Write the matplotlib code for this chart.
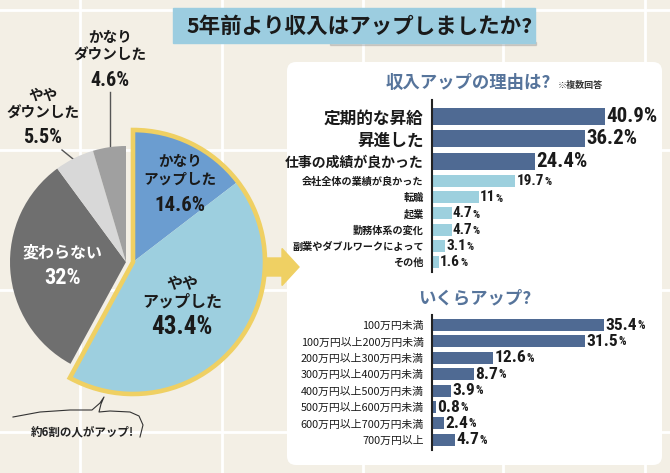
import numpy as np
import matplotlib.pyplot as plt
from matplotlib.patches import Rectangle, FancyBboxPatch, FancyArrow

plt.rcParams['font.family'] = ['Noto Sans CJK JP', 'DejaVu Sans']

# data
title = "5年前より収入はアップしましたか?"
pie_labels = ["かなり\nアップした", "やや\nアップした", "変わらない", "やや\nダウンした", "かなり\nダウンした"]
pie_values = [14.6, 43.4, 32, 5.5, 4.6]

reason_title = "収入アップの理由は?"
reason_note = "※複数回答"
reasons = ["定期的な昇給", "昇進した", "仕事の成績が良かった", "会社全体の業績が良かった",
           "転職", "起業", "勤務体系の変化", "副業やダブルワークによって", "その他"]
reason_values = [40.9, 36.2, 24.4, 19.7, 11, 4.7, 4.7, 3.1, 1.6]
n_big = 3

amount_title = "いくらアップ?"
amounts = ["100万円未満", "100万円以上200万円未満", "200万円以上300万円未満",
           "300万円以上400万円未満", "400万円以上500万円未満", "500万円以上600万円未満",
           "600万円以上700万円未満", "700万円以上"]
amount_values = [35.4, 31.5, 12.6, 8.7, 3.9, 0.8, 2.4, 4.7]

note = "約6割の人がアップ!"

# colours
BG = "#f3efe5"
YELLOW = "#efd063"
DARK_BLUE = "#4f6a93"
LIGHT_BLUE = "#9dd0de"
pie_colors = ["#6b9dd0", "#9dcfdf", "#6f6f6f", "#d8d8d8", "#a0a0a0"]
NUM = dict(family=['Roboto Condensed', 'DejaVu Sans'], fontstretch='condensed', fontweight='bold')

W, H = 670, 473
fig = plt.figure(figsize=(W / 100, H / 100), dpi=100)
fig.patch.set_facecolor(BG)


def px_axes(x0, y0, x1, y1):
    return fig.add_axes([x0 / W, 1 - y1 / H, (x1 - x0) / W, (y1 - y0) / H])


def value_label(ax, x, y, v, size, psize):
    # number followed by a smaller percent sign
    t = ax.text(x, y, f"{v:g}", ha='left', va='center', fontsize=size,
                color='#1a1a1a', **NUM)
    ax.annotate("%", xy=(1, 0), xycoords=t, xytext=(0.3, 0.5), textcoords='offset points',
                ha='left', va='bottom', fontsize=psize, color='#1a1a1a', **NUM)


# background layer in pixel coords (y down)
bg = fig.add_axes([0, 0, 1, 1])
bg.set_xlim(0, W)
bg.set_ylim(H, 0)
bg.axis('off')
for gx in [80, 222, 363, 503, 645]:
    bg.axvline(gx, color='white', lw=2, zorder=0)
for gy in [10, 150, 290, 432]:
    bg.axhline(gy, color='white', lw=2, zorder=0)

# title box
bg.add_patch(Rectangle((330, 42), 206, 3, color='#888888', alpha=0.3, zorder=1))
bg.add_patch(Rectangle((173, 8), 362, 35, color='#9ccde0', zorder=2))
bg.text(360, 26, title, ha='center', va='center', fontsize=15.5,
        fontweight='bold', color='#1a1a1a', zorder=3)

# white panel
bg.add_patch(FancyBboxPatch((287, 62), 375, 403, boxstyle="round,pad=0,rounding_size=9",
                            fc='white', ec='none', zorder=1))
bg.text(468, 83, reason_title, ha='center', va='center', fontsize=12.5,
        fontweight='bold', color='#56749b', zorder=3)
bg.text(558, 85, reason_note, ha='left', va='center', fontsize=6.5,
        fontweight='bold', color='#333333', zorder=3)
bg.text(475, 298, amount_title, ha='center', va='center', fontsize=12.5,
        fontweight='bold', color='#56749b', zorder=3)

# arrow
bg.add_patch(FancyArrow(263, 267, 19, 0, width=18, head_width=37, head_length=17,
                        length_includes_head=False, color=YELLOW, zorder=2))

# pie
pax = fig.add_axes([0, 0, 1, 1])
pax.patch.set_alpha(0)
cx, cy = 126, H - 262
wedges, _ = pax.pie(pie_values, colors=pie_colors, startangle=90, counterclock=False,
                    radius=116, center=(cx, cy), frame=True,
                    wedgeprops=dict(linewidth=0))
for w in wedges[:2]:
    w.set_visible(False)
ux, uy = 133, H - 262
up_wedges, _ = pax.pie(pie_values, colors=pie_colors, startangle=90, counterclock=False,
                       radius=132, center=(ux, uy), frame=True,
                       wedgeprops=dict(linewidth=0))
for w in up_wedges[2:]:
    w.set_visible(False)
up_total = sum(pie_values[:2])
outline, _ = pax.pie([up_total, sum(pie_values) - up_total], startangle=90, counterclock=False,
                     radius=132, center=(ux, uy), frame=True,
                     wedgeprops=dict(fc='none', ec=YELLOW, linewidth=3.3, joinstyle='miter'))
outline[1].set_visible(False)
pax.set_xlim(0, W)
pax.set_ylim(0, H)
pax.axis('off')

# pie labels (pixel coords, y down), drawn on top of the pie
lab_pos = [(180, 170), (182, 293), (63, 252), (43, 104), (110, 46)]
num_pos = [(180, 205), (182, 327), (63, 278), (43, 137), (110, 80)]
lab_col = ['#1a1a1a', '#1a1a1a', 'white', '#1a1a1a', '#1a1a1a']
lab_fs = [10.5, 11.5, 11.5, 10.5, 10.5]
num_fs = [15, 18, 16, 14.5, 14.5]
for lab, v, lp, npos, c, fs, nfs in zip(pie_labels, pie_values, lab_pos, num_pos,
                                        lab_col, lab_fs, num_fs):
    pax.text(lp[0], lp[1], lab, ha='center', va='center', fontsize=fs, fontweight='bold',
             color=c, linespacing=1.15, zorder=5, transform=bg.transData)
    pax.text(npos[0], npos[1], f"{v:g}%", ha='center', va='center', fontsize=nfs,
             color=c, zorder=5, transform=bg.transData, **NUM)
bg.plot([110, 110], [92, 151], color='#555555', lw=1, zorder=5)
bg.plot([62, 78], [150, 163], color='#555555', lw=1, zorder=5)

# note with squiggle
bg.text(82, 432, note, ha='center', va='center', fontsize=8.3, fontweight='bold',
        color='#222222', zorder=5)
sq_x = [13, 40, 70, 92, 100, 104, 101, 99, 110, 130, 139, 143, 140]
sq_y = [417, 412, 410, 410, 403, 397, 404, 412, 411, 412, 416, 425, 437]
bg.plot(sq_x, sq_y, color='#333333', lw=0.8, zorder=5)

# reasons bar chart
rax = px_axes(432, 100, 662, 272)
px_per = (605 - 432) / reason_values[0]
rax.set_xlim(0, 230 / px_per)
rax.set_ylim(272, 100)
pos = []
y = 116.5
for i in range(len(reasons)):
    if i > 0:
        big_prev, big_cur = i - 1 < n_big, i < n_big
        y += 22.5 if (big_prev and big_cur) else (16.2 if not (big_prev or big_cur) else 19.5)
    pos.append(y)
heights = [17 if i < n_big else 12 for i in range(len(reasons))]
colors = [DARK_BLUE if i < n_big else LIGHT_BLUE for i in range(len(reasons))]
rax.barh(pos, reason_values, height=heights, color=colors)
for i, (p, v) in enumerate(zip(pos, reason_values)):
    if i < n_big:
        rax.text(v + 0.25, p, f"{v:g}%", ha='left', va='center', fontsize=15,
                 color='#1a1a1a', **NUM)
    else:
        value_label(rax, v + 0.25, p, v, 11, 8)
rax.set_yticks(pos, reasons)
big_fs = [12, 12, 10]
for i, t in enumerate(rax.get_yticklabels()):
    t.set_fontsize(big_fs[i] if i < n_big else 7.3)
    t.set_fontweight('bold')
    t.set_color('#1a1a1a')

# amounts bar chart
aax = px_axes(432, 315, 662, 450)
px_per2 = (604 - 432) / amount_values[0]
aax.set_xlim(0, 230 / px_per2)
aax.set_ylim(450, 315)
pos2 = [325 + 16.4 * i for i in range(len(amounts))]
aax.barh(pos2, amount_values, height=12, color=DARK_BLUE)
for p, v in zip(pos2, amount_values):
    value_label(aax, v + 0.25, p, v, 12.5, 8.5)
aax.set_yticks(pos2, amounts)
for t in aax.get_yticklabels():
    t.set_fontsize(7.8)
    t.set_color('#1a1a1a')

for ax in (rax, aax):
    ax.patch.set_alpha(0)
    for s in ['top', 'right', 'bottom']:
        ax.spines[s].set_visible(False)
    ax.spines['left'].set_linewidth(1.5)
    ax.spines['left'].set_color('#222222')
    ax.set_xticks([])
    ax.tick_params(axis='y', length=0, pad=6)

fig.savefig("out.png", dpi=100, facecolor=BG)
